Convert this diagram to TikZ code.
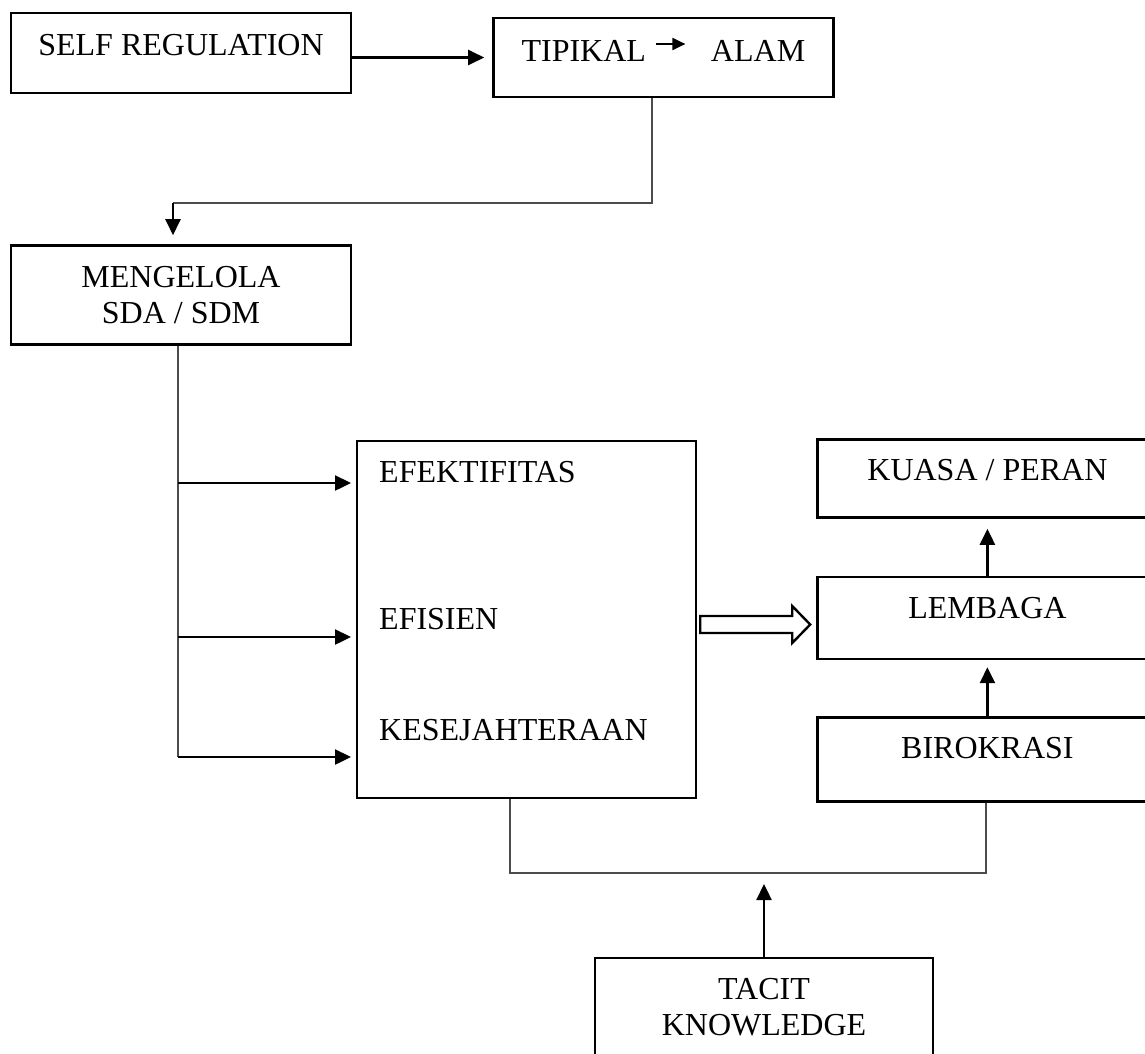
\documentclass[tikz,border=0pt]{standalone}
\usepackage{fontspec}
\setmainfont{Liberation Serif}
\usetikzlibrary{positioning,arrows.meta,calc}

\begin{document}
\begin{tikzpicture}[x=1pt, y=-1pt, font=\fontsize{32}{36}\selectfont,
    box/.style={draw, line width=2.4pt, minimum width=340pt, inner sep=0pt},
    dp/.style={text height=22pt, text depth=#1},
    link/.style={black!70, line width=1.3pt},
    arr/.style={line width=2.4pt, -{Triangle[length=16pt,width=15pt]}},
    tinyarr/.style={line width=2pt, -{Triangle[length=13pt,width=12pt]}}]

    \path[use as bounding box, clip] (0,0) rectangle (1145,1053);

    \node[box, minimum height=80pt, dp=18pt] (sr) at (181,53) {SELF REGULATION};
    \node[box, minimum height=79pt, dp=15pt, right=140pt of sr, yshift=-4.5pt] (tp) {TIPIKAL\hspace{65pt}ALAM\hspace{16pt}};
    \node[box, minimum height=99pt, align=center, below=150pt of sr] (mg) {MENGELOLA\\SDA / SDM};

    \node[box, minimum width=339pt, minimum height=357pt] (ef) at (526.5,619.5) {};
    \node[anchor=base west, inner sep=0pt] (e1) at (379,482) {EFEKTIFITAS};
    \node[anchor=base west, inner sep=0pt] (e2) at (379,629) {EFISIEN};
    \node[anchor=base west, inner sep=0pt] (e3) at (379,740) {KESEJAHTERAAN};

    \node[box, minimum height=82pt, dp=22pt, right=119pt of ef, yshift=1.5pt] (lb) {LEMBAGA};
    \node[box, minimum height=78pt, dp=18pt, above=57pt of lb] (ks) {KUASA / PERAN};
    \node[box, minimum height=84pt, dp=24pt, below=56pt of lb] (bk) {BIROKRASI};
    \node[box, minimum width=338pt, minimum height=99pt, align=center] (tk) at (764,1007.5) {TACIT\\KNOWLEDGE};

    \coordinate (k1) at (652,203);
    \coordinate (k2) at (173,203);
    \coordinate (tr) at (178,757);
    \coordinate (a1) at (357,483);
    \coordinate (a2) at (357,637);
    \coordinate (a3) at (357,757);
    \coordinate (bl) at (510,873);
    \coordinate (br) at (986,873);

    \draw[arr, shorten >=8pt] (sr.east |- tp.west) -- (tp.west);
    \draw[tinyarr] ($(tp.center)+(-7,-13.5)$) -- ++(29,0);
    \draw[link] (k1 |- tp.south) -- (k1) -- (k2);
    \draw[arr, shorten >=9pt] (k2) -- (k2 |- mg.north);

    \draw[link] (tr |- mg.south) -- (tr);
    \foreach \i in {1,2,3}
        \draw[arr, shorten >=6pt] (tr |- a\i) -- (a\i);

    \draw[line width=2.4pt, fill=white] ($(ef.east)+(3,-3.5)$) -- ++(92,0) -- ++(0,-10) -- ++(18,18.5) -- ++(-18,18.5) -- ++(0,-10) -- ++(-92,0) -- cycle;
    \draw[arr, shorten >=10pt] (lb.north) -- (ks.south);
    \draw[arr, shorten >=7pt] (bk.north) -- (lb.south);

    \draw[link] (bl |- ef.south) -- (bl) -- (br) -- (br |- bk.south);
    \draw[arr, shorten >=11pt] (tk.north) -- (tk.north |- bl);
\end{tikzpicture}
\end{document}
